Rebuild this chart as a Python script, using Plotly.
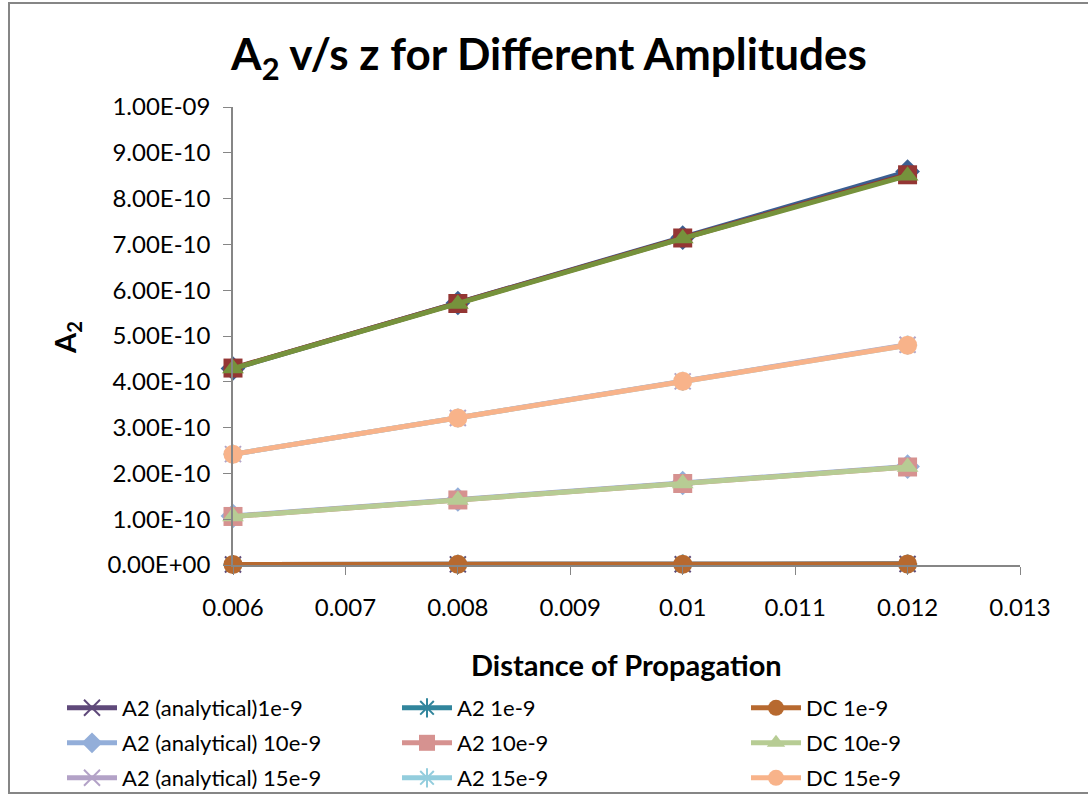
import plotly.graph_objects as go

z = [0.006, 0.008, 0.010, 0.012]

# amplitude 20e-9 (no legend entries)
a2_analytical_20 = [4.29e-10, 5.72e-10, 7.15e-10, 8.59e-10]
a2_numeric_20 = [4.30e-10, 5.71e-10, 7.14e-10, 8.52e-10]
dc_20 = [4.29e-10, 5.70e-10, 7.13e-10, 8.50e-10]
# amplitude 1e-9
a2_analytical_1 = [1.1e-12, 1.4e-12, 1.8e-12, 2.1e-12]
a2_numeric_1 = [1.1e-12, 1.4e-12, 1.8e-12, 2.1e-12]
dc_1 = [1.1e-12, 1.4e-12, 1.8e-12, 2.1e-12]
# amplitude 10e-9
a2_analytical_10 = [1.07e-10, 1.43e-10, 1.79e-10, 2.15e-10]
a2_numeric_10 = [1.06e-10, 1.42e-10, 1.78e-10, 2.14e-10]
dc_10 = [1.06e-10, 1.42e-10, 1.78e-10, 2.14e-10]
# amplitude 15e-9
a2_analytical_15 = [2.42e-10, 3.21e-10, 4.01e-10, 4.81e-10]
a2_numeric_15 = [2.42e-10, 3.21e-10, 4.01e-10, 4.80e-10]
dc_15 = [2.42e-10, 3.21e-10, 4.01e-10, 4.80e-10]

series_names = [None, None, None,
                "A2 (analytical)1e-9", "A2 1e-9", "DC 1e-9",
                "A2 (analytical) 10e-9", "A2 10e-9", "DC 10e-9",
                "A2 (analytical) 15e-9", "A2 15e-9", "DC 15e-9"]

y_tickvals = [0, 1e-10, 2e-10, 3e-10, 4e-10, 5e-10, 6e-10, 7e-10, 8e-10, 9e-10, 1e-9]
y_ticktext = ["0.00E+00", "1.00E-10", "2.00E-10", "3.00E-10", "4.00E-10", "5.00E-10",
              "6.00E-10", "7.00E-10", "8.00E-10", "9.00E-10", "1.00E-09"]
x_tickvals = [0.006, 0.007, 0.008, 0.009, 0.010, 0.011, 0.012, 0.013]
x_ticktext = ["0.006", "0.007", "0.008", "0.009", "0.01", "0.011", "0.012", "0.013"]

FONT = "Lato"
W, H = 1088, 794
L, R, T, B = 233, 68, 107, 229

data_list = [a2_analytical_20, a2_numeric_20, dc_20,
             a2_analytical_1, a2_numeric_1, dc_1,
             a2_analytical_10, a2_numeric_10, dc_10,
             a2_analytical_15, a2_numeric_15, dc_15]
colors = ["#3B5F92", "#943634", "#76923C",
          "#5F497A", "#31859C", "#B7692F",
          "#93AED9", "#D69290", "#B7CC94",
          "#B3A2C7", "#93CDDD", "#F8B38A"]
symbols = ["diamond", "square", "triangle-up",
           "x-thin-open", "asterisk-open", "circle",
           "diamond", "square", "triangle-up",
           "x-thin-open", "asterisk-open", "circle"]

fig = go.Figure()
legend_slot = 0
text_x = [123, 458, 807]
row_y = [708, 743, 778]
for i, (vals, col, sym, nm) in enumerate(zip(data_list, colors, symbols, series_names)):
    open_sym = sym.endswith("-open")
    marker = dict(symbol=sym, size=19 if not open_sym else 16, color=col,
                  line=dict(color=col, width=2 if open_sym else 0))
    kw = {}
    if nm is not None:
        legend_slot += 1
        kw["legend"] = "legend" if legend_slot == 1 else f"legend{legend_slot}"
    fig.add_trace(go.Scatter(
        x=z, y=vals, mode="lines+markers", name=nm if nm else "",
        line=dict(color=col, width=5), marker=marker,
        showlegend=nm is not None, cliponaxis=False, **kw))

layout_legends = {}
for k in range(9):
    r, c = divmod(k, 3)
    key = "legend" if k == 0 else f"legend{k+1}"
    layout_legends[key] = dict(
        x=(text_x[c] - 61) / W, y=1 - row_y[r] / H, xref="container", yref="container",
        xanchor="left", yanchor="middle", bgcolor="rgba(0,0,0,0)",
        font=dict(family=FONT, size=22, color="#000000"), itemwidth=50)

fig.update_layout(
    width=W, height=H,
    margin=dict(l=L, r=R, t=T, b=B, autoexpand=False),
    paper_bgcolor="white", plot_bgcolor="white",
    title=dict(text="<b>A<sub>2</sub> v/s z for Different Amplitudes</b>",
               x=549 / W, xref="container", xanchor="center",
               y=1 - 55 / H, yref="container", yanchor="middle",
               font=dict(family=FONT, size=44, color="#000000")),
    xaxis=dict(range=[0.006, 0.013], tickvals=x_tickvals, ticktext=x_ticktext,
               showgrid=False, zeroline=False, showline=True, linecolor="#868686",
               linewidth=1.5, ticks="outside", ticklen=8, tickcolor="#868686",
               ticklabelstandoff=12,
               tickfont=dict(family=FONT, size=24, color="#000000")),
    yaxis=dict(range=[0, 1e-9], tickvals=y_tickvals, ticktext=y_ticktext,
               showgrid=False, zeroline=False, showline=True, linecolor="#868686",
               linewidth=1.5, ticks="outside", ticklen=8, tickcolor="#868686",
               ticklabelstandoff=8,
               tickfont=dict(family=FONT, size=24, color="#000000")),
    annotations=[
        dict(text="<b>Distance of Propagation</b>", xref="paper", yref="paper",
             x=(626 - L) / 787, y=(565 - 664) / 458, xanchor="center", yanchor="middle",
             showarrow=False, font=dict(family=FONT, size=29, color="#000000")),
        dict(text="<b>A<sub>2</sub></b>", xref="paper", yref="paper",
             x=(66 - L) / 787, y=(565 - 338) / 458, xanchor="center", yanchor="middle",
             textangle=-90, showarrow=False, font=dict(family=FONT, size=29, color="#000000")),
    ],
    shapes=[dict(type="rect", xref="paper", yref="paper",
                 x0=(9 - L) / 787, x1=(1095 - L) / 787,
                 y0=(565 - 793) / 458, y1=(565 - 3) / 458,
                 line=dict(color="#868686", width=2), layer="below")],
    **layout_legends,
)

fig.write_html("out.html", config={"displayModeBar": False},
               post_script="document.body.style.margin='0';")
